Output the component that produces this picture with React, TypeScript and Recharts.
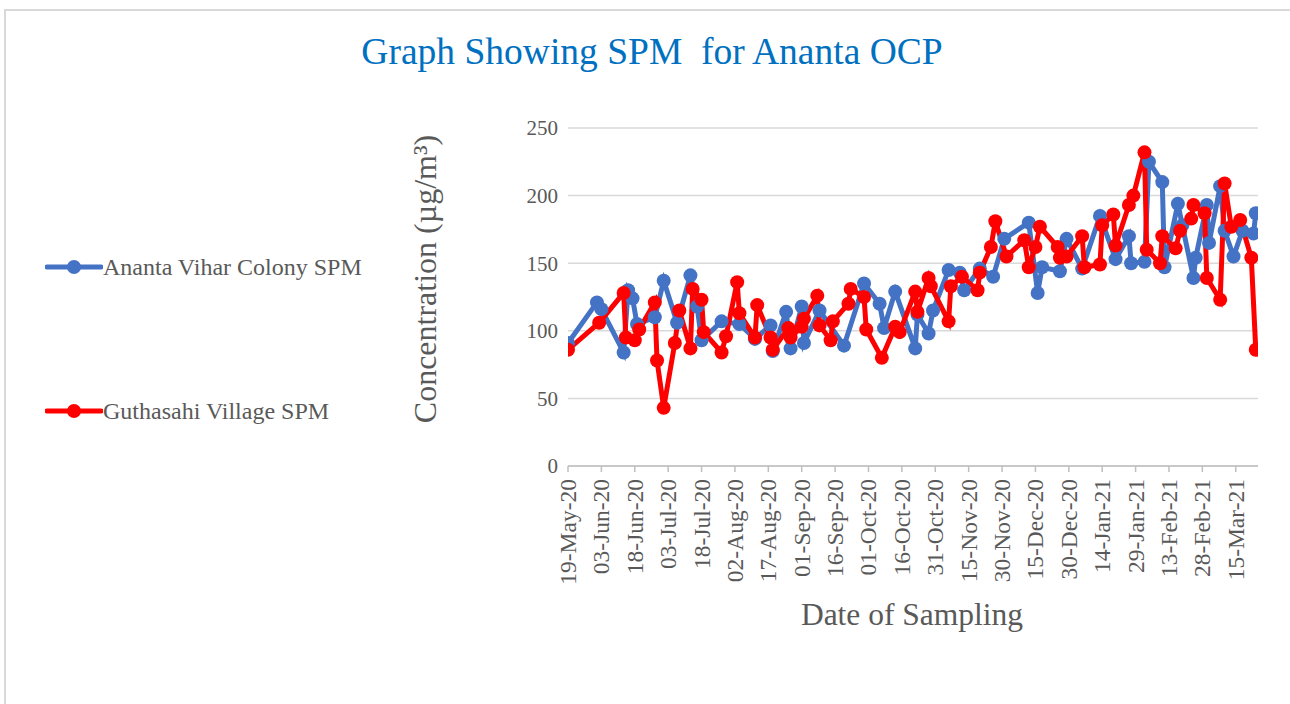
import { LineChart, Line, XAxis, YAxis, CartesianGrid } from 'recharts'

// days counted from 19-May-20 (first sampling day)
const anantaDays = [
  0, 13, 15, 25, 27, 29, 31, 39, 43, 49, 55, 58, 60, 69, 77, 84, 91, 92, 98, 100,
  105, 106, 113, 124, 133, 140, 142, 147, 156, 157, 162, 164, 171, 176, 178, 185, 191, 196, 207, 211,
  213, 221, 224, 231, 239, 246, 252, 253, 259, 261, 267, 268, 274, 276, 281, 282, 287, 288, 293, 295,
  299, 303, 308, 309,
]
const anantaSpm = [
  91, 121, 116, 84, 130, 124, 105, 110, 137, 106, 141, 118, 93, 107, 105, 94, 104, 85, 114, 87,
  118, 91, 115, 89, 135, 120, 102, 129, 87, 112, 98, 115, 145, 143, 130, 146, 140, 168, 180, 128,
  147, 144, 168, 146, 185, 153, 170, 150, 151, 225, 210, 147, 194, 178, 139, 154, 193, 165, 207, 174,
  155, 174, 172, 187,
]

const guthasahiDays = [
  0, 14, 25, 26, 30, 32, 39, 40, 43, 48, 50, 55, 56, 60, 61, 69, 71, 76, 77, 84,
  85, 91, 92, 99, 100, 105, 106, 112, 113, 118, 119, 126, 127, 133, 134, 141, 147, 149, 156, 157,
  162, 163, 171, 172, 177, 184, 185, 190, 192, 197, 205, 207, 210, 212, 220, 221, 224, 231, 232, 239,
  240, 245, 246, 252, 254, 259, 260, 266, 267, 273, 275, 280, 281, 286, 287, 293, 295, 298, 302, 307,
  309,
]
const guthasahiSpm = [
  86, 106, 128, 95, 93, 101, 121, 78, 43, 91, 115, 87, 131, 123, 99, 84, 96, 136, 113, 95,
  119, 95, 86, 102, 95, 103, 109, 126, 104, 93, 107, 120, 131, 125, 101, 80, 103, 99, 129, 114,
  139, 133, 107, 133, 140, 130, 143, 162, 181, 155, 167, 147, 162, 177, 162, 154, 155, 170, 147, 149,
  178, 186, 163, 193, 200, 232, 160, 150, 170, 161, 174, 183, 193, 187, 139, 123, 209, 177, 182, 154,
  86,
]

const dateTicks = [0, 15, 30, 45, 60, 75, 90, 105, 120, 135, 150, 165, 180, 195, 210, 225, 240, 255, 270, 285, 300]
const spmTicks = [0, 50, 100, 150, 200, 250]

const START = Date.UTC(2020, 4, 19)
const MONTHS = ['Jan', 'Feb', 'Mar', 'Apr', 'May', 'Jun', 'Jul', 'Aug', 'Sep', 'Oct', 'Nov', 'Dec']
const fmtDate = (d: number) => {
  const dt = new Date(START + d * 86400000)
  return `${String(dt.getUTCDate()).padStart(2, '0')}-${MONTHS[dt.getUTCMonth()]}-${String(dt.getUTCFullYear()).slice(2)}`
}

const ananta = anantaDays.map((day, i) => ({ day, spm: anantaSpm[i] }))
const guthasahi = guthasahiDays.map((day, i) => ({ day, spm: guthasahiSpm[i] }))

const FONT = '"Liberation Serif", "Times New Roman", serif'
const GRAY = '#595959'
const BLUE = '#4472C4'
const RED = '#FF0000'

function DateTick({ x, y, payload }: any) {
  const ty = y + 5
  return (
    <text x={x} y={ty} transform={`rotate(-90, ${x}, ${ty})`} textAnchor="end" dominantBaseline="central"
      fill={GRAY} fontSize={23.5} fontFamily={FONT}>
      {fmtDate(payload.value)}
    </text>
  )
}

const legendItems = [
  { name: 'Ananta Vihar Colony SPM', color: BLUE, top: 255 },
  { name: 'Guthasahi Village SPM', color: RED, top: 399 },
]

function SeriesLegend() {
  return (
    <>
      {legendItems.map(it => (
        <div key={it.name} style={{ position: 'absolute', left: 45, top: it.top, display: 'flex', alignItems: 'center', height: 24 }}>
          <svg width={58} height={20}>
            <line x1={2} y1={10} x2={56} y2={10} stroke={it.color} strokeWidth={5} strokeLinecap="round" />
            <circle cx={29} cy={10} r={7} fill={it.color} />
          </svg>
          <span style={{ fontFamily: FONT, fontSize: 24, color: GRAY, whiteSpace: 'nowrap' }}>{it.name}</span>
        </div>
      ))}
    </>
  )
}

export default function App() {
  return (
    <div style={{ position: 'absolute', left: 0, top: 0, width: 1290, height: 704, background: '#fff', overflow: 'hidden' }}>
      <div style={{ position: 'absolute', left: 4, top: 9, width: 1300, height: 720, border: '2px solid #d9d9d9' }} />
      <div style={{ position: 'absolute', left: 0, top: 30, width: 1304, textAlign: 'center', fontFamily: FONT, fontSize: 37.5, color: '#0070C0', whiteSpace: 'pre' }}>
        {'Graph Showing SPM  for Ananta OCP'}
      </div>
      <div style={{ position: 'absolute', left: 425, top: 279, width: 0, height: 0 }}>
        <div style={{ position: 'absolute', transform: 'translate(-50%, -50%) rotate(-90deg)', fontFamily: FONT, fontSize: 32, color: GRAY, whiteSpace: 'nowrap' }}>
          Concentration (µg/m³)
        </div>
      </div>
      <div style={{ position: 'absolute', left: 912, top: 615, width: 0, height: 0 }}>
        <div style={{ position: 'absolute', transform: 'translate(-50%, -50%)', fontFamily: FONT, fontSize: 31.5, color: GRAY, whiteSpace: 'nowrap' }}>
          Date of Sampling
        </div>
      </div>
      <SeriesLegend />
      <LineChart width={1290} height={704} style={{ position: 'absolute', left: 0, top: 0 }}
        margin={{ top: 128, right: 32, left: 508, bottom: 118 }}>
        <CartesianGrid vertical={false} stroke="#d9d9d9" strokeWidth={1.5} />
        <XAxis dataKey="day" type="number" domain={[0, 310]} ticks={dateTicks} allowDataOverflow
          height={120} tickSize={6} stroke="#bfbfbf" strokeWidth={1.5} tick={<DateTick />} interval={0} />
        <YAxis domain={[0, 250]} ticks={spmTicks} width={60} axisLine={false} tickLine={false} tickSize={0} tickMargin={10}
          tick={{ fill: GRAY, fontSize: 21, fontFamily: FONT }} />
        <Line data={ananta} dataKey="spm" name="Ananta Vihar Colony SPM" type="linear" stroke={BLUE} strokeWidth={5}
          dot={{ r: 7, fill: BLUE, stroke: BLUE, strokeWidth: 0 }} activeDot={false} isAnimationActive={false} />
        <Line data={guthasahi} dataKey="spm" name="Guthasahi Village SPM" type="linear" stroke={RED} strokeWidth={5}
          dot={{ r: 7, fill: RED, stroke: RED, strokeWidth: 0 }} activeDot={false} isAnimationActive={false} />
      </LineChart>
    </div>
  )
}
